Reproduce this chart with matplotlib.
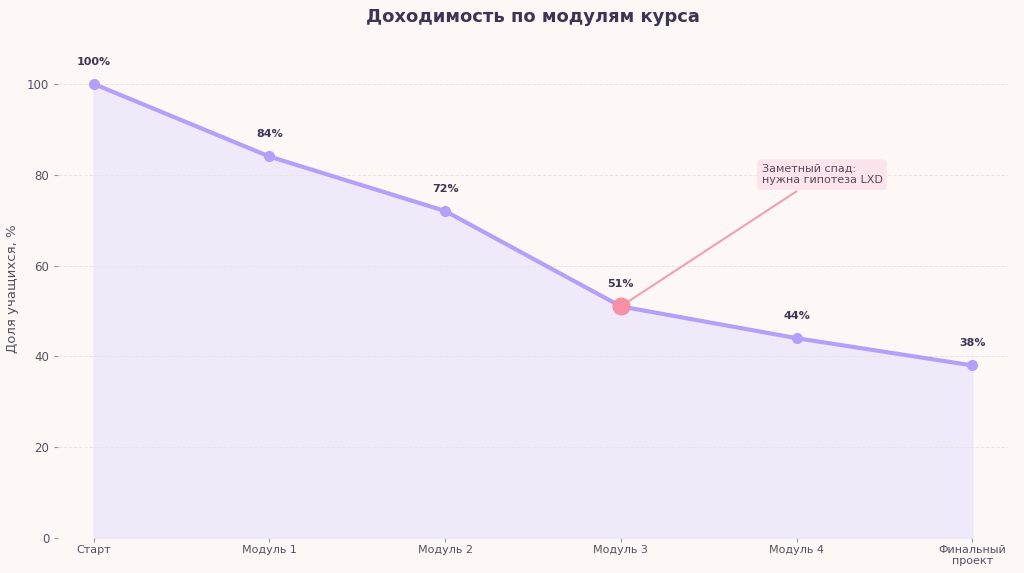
import numpy as np
import matplotlib.pyplot as plt

stages = ['Старт', 'Модуль 1', 'Модуль 2', 'Модуль 3', 'Модуль 4', 'Финальный\nпроект']
share = [100, 84, 72, 51, 44, 38]
highlight = 3
note = 'Заметный спад:\nнужна гипотеза LXD'

bg = '#fdf8f5'
line_c = '#b4a0f8'
fill_c = '#efe8fb'
pink = '#f78fa7'
dark = '#3d3553'

fig, ax = plt.subplots(figsize=(10.24, 5.73), dpi=100)
fig.patch.set_facecolor(bg)
ax.set_facecolor(bg)
fig.subplots_adjust(left=0.057, right=0.984, bottom=0.061, top=0.933)

x = np.arange(len(stages))
ax.fill_between(x, share, color=fill_c, alpha=0.9, zorder=1)
ax.plot(x, share, color=line_c, lw=3, marker='o', ms=7, zorder=3)
ax.plot(x[highlight], share[highlight], 'o', color=pink, ms=12, zorder=4)

for xi, v in zip(x, share):
    ax.text(xi, v + 3.8, f'{v}%', ha='center', va='bottom', fontsize=8,
            fontweight='bold', color=dark)

ax.annotate(note, xy=(x[highlight], share[highlight]), xytext=(3.8, 80),
            fontsize=8, color='#5a4a5a', ha='left', va='center',
            bbox=dict(boxstyle='round,pad=0.4', fc='#fce4ec', ec='none'),
            arrowprops=dict(arrowstyle='-', color='#f0a0b0', lw=1.5))

ax.set_xticks(x)
ax.set_xticklabels(stages, fontsize=8, color='#555060', linespacing=1.1)
ax.set_yticks([0, 20, 40, 60, 80, 100])
ax.tick_params(axis='y', labelsize=8.5, labelcolor='#555060', color='#999999', length=3)
ax.tick_params(axis='x', color='#999999', length=3, pad=2)
ax.set_xlim(-0.2, 5.2)
ax.set_ylim(0, 110)
ax.set_ylabel('Доля учащихся, %', fontsize=9.5, color='#555060', labelpad=6)
ax.set_title('Доходимость по модулям курса', fontsize=13, fontweight='bold',
             color=dark, pad=12)
ax.grid(axis='y', color='#ebe3e3', ls='--', lw=0.7, zorder=0)
for s in ax.spines.values():
    s.set_visible(False)

fig.savefig('out.png', facecolor=bg)
